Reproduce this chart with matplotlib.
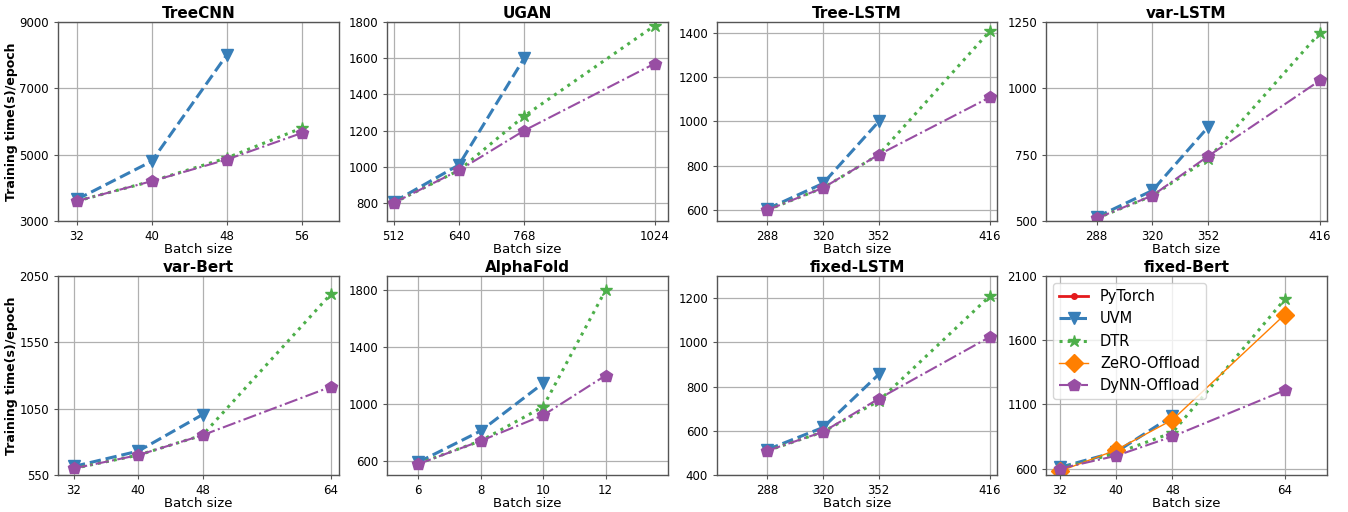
import matplotlib
matplotlib.use("Agg")
import matplotlib.pyplot as plt

# ---------------- data ----------------
titles = ["TreeCNN", "UGAN", "Tree-LSTM", "var-LSTM",
          "var-Bert", "AlphaFold", "fixed-LSTM", "fixed-Bert"]

x_treecnn = [32, 40, 48, 56]
uvm_treecnn = [3650, 4800, 8000]
dtr_treecnn = [3600, 4200, 4900, 5800]
dynn_treecnn = [3600, 4200, 4850, 5650]

x_ugan = [512, 640, 768, 1024]
uvm_ugan = [805, 1010, 1600]
dtr_ugan = [800, 980, 1280, 1780]
dynn_ugan = [800, 980, 1200, 1570]

x_treelstm = [288, 320, 352, 416]
uvm_treelstm = [605, 720, 1000]
dtr_treelstm = [600, 700, 850, 1410]
dynn_treelstm = [600, 700, 850, 1110]

x_varlstm = [288, 320, 352, 416]
uvm_varlstm = [515, 615, 855]
dtr_varlstm = [510, 595, 735, 1210]
dynn_varlstm = [510, 596, 745, 1030]

x_varbert = [32, 40, 48, 64]
uvm_varbert = [615, 730, 1005]
dtr_varbert = [600, 700, 850, 1915]
dynn_varbert = [600, 700, 850, 1215]

x_alphafold = [6, 8, 10, 12]
uvm_alphafold = [590, 810, 1145]
dtr_alphafold = [580, 740, 980, 1800]
dynn_alphafold = [577, 740, 920, 1200]

x_fixedlstm = [288, 320, 352, 416]
uvm_fixedlstm = [515, 615, 855]
dtr_fixedlstm = [510, 595, 735, 1210]
dynn_fixedlstm = [510, 595, 745, 1025]

x_fixedbert = [32, 40, 48, 64]
pytorch_fixedbert = []
uvm_fixedbert = [610, 730, 1010]
dtr_fixedbert = [600, 720, 880, 1920]
zero_fixedbert = [580, 745, 980, 1800]
dynn_fixedbert = [600, 700, 850, 1210]

yticks_list = [[3000, 5000, 7000, 9000], [800, 1000, 1200, 1400, 1600, 1800],
               [600, 800, 1000, 1200, 1400], [500, 750, 1000, 1250],
               [550, 1050, 1550, 2050], [600, 1000, 1400, 1800],
               [400, 600, 800, 1000, 1200], [600, 1100, 1600, 2100]]
ylims = [(3000, 9000), (700, 1800), (550, 1450), (500, 1250),
         (550, 2050), (500, 1900), (400, 1300), (550, 2100)]
xlims = [(30, 60), (499, 1050), (259, 420), (259, 420),
         (30, 65), (5, 14), (259, 420), (30, 70)]

panels = [
    (x_treecnn, uvm_treecnn, dtr_treecnn, dynn_treecnn),
    (x_ugan, uvm_ugan, dtr_ugan, dynn_ugan),
    (x_treelstm, uvm_treelstm, dtr_treelstm, dynn_treelstm),
    (x_varlstm, uvm_varlstm, dtr_varlstm, dynn_varlstm),
    (x_varbert, uvm_varbert, dtr_varbert, dynn_varbert),
    (x_alphafold, uvm_alphafold, dtr_alphafold, dynn_alphafold),
    (x_fixedlstm, uvm_fixedlstm, dtr_fixedlstm, dynn_fixedlstm),
    (x_fixedbert, uvm_fixedbert, dtr_fixedbert, dynn_fixedbert),
]

C_RED = "#e41a1c"
C_BLUE = "#377eb8"
C_GREEN = "#4daf4a"
C_ORANGE = "#ff7f00"
C_PURPLE = "#984ea3"

W, H = 1348, 512
fig = plt.figure(figsize=(W / 100, H / 100), dpi=100)

col_px = [(58, 339), (387, 668), (717, 997), (1046, 1327)]
row_px = [(22, 221), (276, 475)]

for i, (xs, uvm, dtr, dynn) in enumerate(panels):
    r, c = divmod(i, 4)
    l, rr = col_px[c]
    t, b = row_px[r]
    ax = fig.add_axes([l / W, 1 - b / H, (rr - l) / W, (b - t) / H])
    ax.grid(True, color="#b0b0b0", lw=0.9, zorder=0)
    ax.set_axisbelow(True)
    if i == 7:
        ax.plot(xs[:len(pytorch_fixedbert)], pytorch_fixedbert, color=C_RED, lw=2,
                marker=".", ms=8, label="PyTorch")
    ax.plot(xs[:len(uvm)], uvm, color=C_BLUE, ls="--", lw=2.2, marker="v", ms=9,
            label="UVM")
    ax.plot(xs, dtr, color=C_GREEN, ls=":", lw=2.2, marker="*", ms=9, label="DTR")
    if i == 7:
        ax.plot(xs, zero_fixedbert, color=C_ORANGE, ls="-", lw=1, marker="D", ms=9,
                label="ZeRO-Offload")
    ax.plot(xs, dynn, color=C_PURPLE, ls="-.", lw=1.5, marker="p", ms=9,
            label="DyNN-Offload")
    ax.set_xticks(xs)
    ax.set_yticks(yticks_list[i])
    ax.set_xlim(*xlims[i])
    ax.set_ylim(*ylims[i])
    ax.tick_params(labelsize=8.5, length=3, color="#555555")
    for s in ax.spines.values():
        s.set_color("#555555")
        s.set_linewidth(1.0)
    ax.set_title(titles[i], fontsize=11, fontweight="bold", pad=3)
    ax.set_xlabel("Batch size", fontsize=9.5, labelpad=0)
    if c == 0:
        ax.set_ylabel("Training time(s)/epoch", fontsize=9, fontweight="bold")
        ax.yaxis.set_label_coords(-0.142, 0.5)
    if i == 7:
        ax.legend(loc="upper left", fontsize=10.5, handlelength=2.0,
                  borderaxespad=0.5, labelspacing=0.5)

fig.savefig("out.png", dpi=100)
